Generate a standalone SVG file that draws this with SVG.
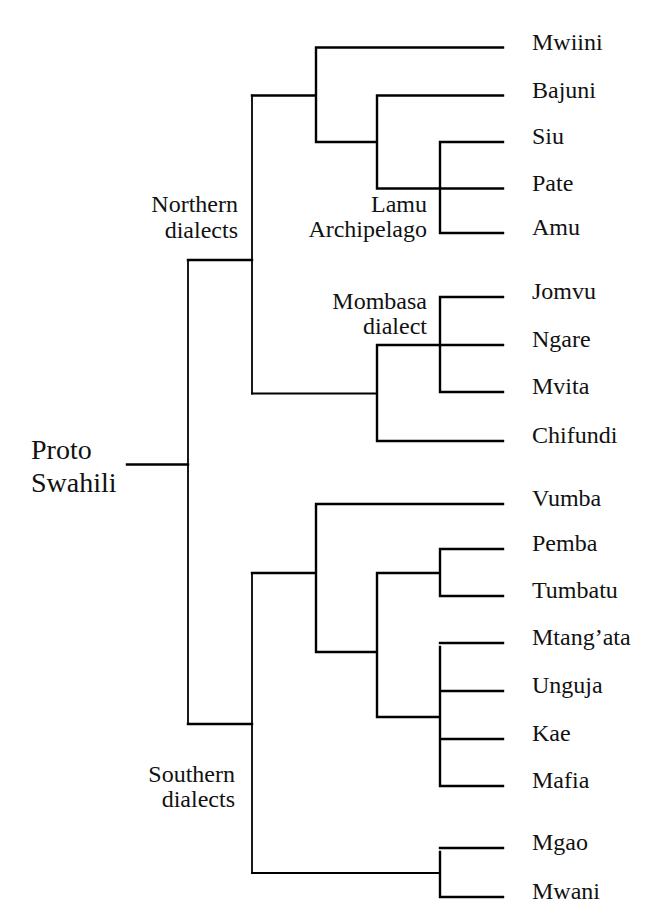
<svg xmlns="http://www.w3.org/2000/svg" width="661" height="907" viewBox="0 0 661 907">
<style>
.c{fill:none;stroke:#000;stroke-width:2.4;stroke-linecap:square;stroke-linejoin:miter}
.t{stroke-width:1.8}
.lb text{font-family:"Liberation Serif","Noto Serif","DejaVu Serif","Nimbus Roman","Nimbus Roman No9 L","FreeSerif","TeX Gyre Pagella","P052","URW Palladio L","Palatino Linotype","Book Antiqua",Palatino,Tinos,"Times New Roman",Times,Georgia,serif;font-size:24px;fill:#111}
.lb .r{text-anchor:end}
.lb .p{font-size:28px}
</style>
<rect width="661" height="907" fill="#fff"/>
<g id="connectors">
<path class="c" d="M127,464.5H188"/>
<path class="c t" d="M188,260V724"/>
<path class="c" d="M188,260H252"/>
<path class="c t" d="M252,95.5V393.5"/>
<path class="c" d="M252,95.5H316M316,47.5V142M316,47.5H503M316,142H377M377,95.5V188.5M377,95.5H503M377,188.5H440M440,142V233M440,142H503M440,188.5H503M440,233H503"/>
<path class="c t" d="M252,393.5H377"/>
<path class="c" d="M377,345V441M377,345H440M440,297V392M440,297H503M440,345H503M440,392H503M377,441H503"/>
<path class="c" d="M188,724H252"/>
<path class="c t" d="M252,573V873"/>
<path class="c" d="M252,573H316M316,504V652M316,504H503M316,652H377M377,573V717M377,573H440M440,549V596M440,549H503M440,596H503M377,717H440M440,647V786M440,643H503M440,691H503M440,739H503M440,786H503"/>
<path class="c t" d="M252,873H440"/>
<path class="c" d="M440,852V897M440,848H503M440,897H503"/>
</g>
<g class="lb">
<g id="proto"><text class="p" x="31" y="459">Proto</text><text class="p" x="31" y="492">Swahili</text></g>
<g id="northern"><text class="r" x="238" y="212">Northern</text><text class="r" x="238" y="238">dialects</text></g>
<g id="southern"><text class="r" x="235" y="782">Southern</text><text class="r" x="235" y="807">dialects</text></g>
<g id="lamu"><text class="r" x="427" y="212">Lamu</text><text class="r" x="427" y="237">Archipelago</text></g>
<g id="mombasa"><text class="r" x="427" y="309">Mombasa</text><text class="r" x="427" y="334">dialect</text></g>
<g id="mwiini"><text x="532" y="49.5">Mwiini</text></g>
<g id="bajuni"><text x="532" y="97.5">Bajuni</text></g>
<g id="siu"><text x="532" y="144">Siu</text></g>
<g id="pate"><text x="532" y="190.5">Pate</text></g>
<g id="amu"><text x="532" y="235">Amu</text></g>
<g id="jomvu"><text x="532" y="299">Jomvu</text></g>
<g id="ngare"><text x="532" y="347">Ngare</text></g>
<g id="mvita"><text x="532" y="394">Mvita</text></g>
<g id="chifundi"><text x="532" y="443">Chifundi</text></g>
<g id="vumba"><text x="532" y="506">Vumba</text></g>
<g id="pemba"><text x="532" y="551">Pemba</text></g>
<g id="tumbatu"><text x="532" y="598">Tumbatu</text></g>
<g id="mtangata"><text x="532" y="645">Mtang’ata</text></g>
<g id="unguja"><text x="532" y="693">Unguja</text></g>
<g id="kae"><text x="532" y="741">Kae</text></g>
<g id="mafia"><text x="532" y="788">Mafia</text></g>
<g id="mgao"><text x="532" y="850">Mgao</text></g>
<g id="mwani"><text x="532" y="899">Mwani</text></g>
</g>
</svg>
